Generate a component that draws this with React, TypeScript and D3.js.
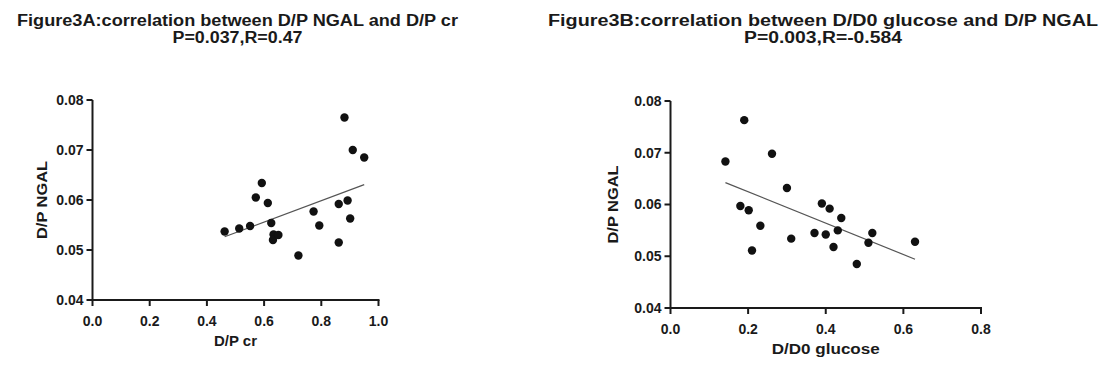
import React from "react";
import * as d3 from "d3";

const dpCr = [0.462, 0.513, 0.551, 0.571, 0.592, 0.613, 0.625, 0.633, 0.631, 0.65, 0.72, 0.773, 0.793, 0.861, 0.861, 0.881, 0.892, 0.901, 0.91, 0.95];
const ngalA = [0.0537, 0.0543, 0.0548, 0.0605, 0.0634, 0.0594, 0.0554, 0.0531, 0.052, 0.053, 0.0489, 0.0577, 0.0549, 0.0592, 0.0515, 0.0765, 0.0599, 0.0563, 0.07, 0.0685];

const glucose = [0.1415, 0.18, 0.19, 0.2015, 0.21, 0.2315, 0.2615, 0.3, 0.311, 0.371, 0.39, 0.4, 0.41, 0.42, 0.431, 0.44, 0.48, 0.51, 0.52, 0.63];
const ngalB = [0.0683, 0.0597, 0.0763, 0.0589, 0.0511, 0.0559, 0.0698, 0.0632, 0.0534, 0.0545, 0.0602, 0.0542, 0.0592, 0.0518, 0.055, 0.0574, 0.0485, 0.0526, 0.0545, 0.0528];

const yTicks = [0.04, 0.05, 0.06, 0.07, 0.08];
const xTicksA = [0, 0.2, 0.4, 0.6, 0.8, 1.0];
const xTicksB = [0, 0.2, 0.4, 0.6, 0.8];

const titleA1 = "Figure3A:correlation between D/P NGAL and D/P cr";
const titleA2 = "P=0.037,R=0.47";
const titleB1 = "Figure3B:correlation between D/D0 glucose and D/P NGAL";
const titleB2 = "P=0.003,R=-0.584";

const FONT = "'Liberation Sans', Arial, sans-serif";
const INK = "#1a1a1a";

function fit(xs: number[], ys: number[]) {
  const mx = d3.mean(xs)!;
  const my = d3.mean(ys)!;
  let num = 0, den = 0;
  xs.forEach((x, i) => { num += (x - mx) * (ys[i] - my); den += (x - mx) ** 2; });
  const b = num / den;
  return { a: my - b * mx, b };
}

type PanelProps = {
  xs: number[]; ys: number[]; xTicks: number[];
  x0: number; x1: number; y0: number; y1: number;
  xDomain: [number, number];
  title1: string; title2: string; titleX: number; t1Len: number; t2Len: number;
  xLabel: string; xLabelLen: number; yLabel: string; yLabelX: number; yLabelLen: number;
};

function Panel(p: PanelProps) {
  const x = d3.scaleLinear().domain(p.xDomain).range([p.x0, p.x1]);
  const y = d3.scaleLinear().domain([0.04, 0.08]).range([p.y0, p.y1]);
  const { a, b } = fit(p.xs, p.ys);
  const xmin = d3.min(p.xs)!;
  const xmax = d3.max(p.xs)!;
  const line = d3.line<number>().x((v) => x(v)).y((v) => y(a + b * v));
  return (
    <g>
      <text x={p.titleX} y={26} textAnchor="middle" fontFamily={FONT} fontWeight="bold" fontSize={16} fill={INK}
        textLength={p.t1Len} lengthAdjust="spacingAndGlyphs">{p.title1}</text>
      <text x={p.titleX} y={43} textAnchor="middle" fontFamily={FONT} fontWeight="bold" fontSize={16} fill={INK}
        textLength={p.t2Len} lengthAdjust="spacingAndGlyphs">{p.title2}</text>
      <line x1={p.x0} x2={p.x0} y1={p.y1} y2={p.y0 + 1} stroke={INK} strokeWidth={2} />
      <line x1={p.x0 - 1} x2={p.x1 + 1} y1={p.y0} y2={p.y0} stroke={INK} strokeWidth={2} />
      {yTicks.map((t) => (
        <g key={"y" + t}>
          <line x1={p.x0 - 6} x2={p.x0} y1={y(t)} y2={y(t)} stroke={INK} strokeWidth={2} />
          <text x={p.x0 - 9} y={y(t)} dy="0.35em" textAnchor="end" fontFamily={FONT} fontWeight="bold" fontSize={14} fill={INK}>{d3.format(".2f")(t)}</text>
        </g>
      ))}
      {p.xTicks.map((t) => (
        <g key={"x" + t}>
          <line x1={x(t)} x2={x(t)} y1={p.y0} y2={p.y0 + 6} stroke={INK} strokeWidth={2} />
          <text x={x(t)} y={p.y0 + 26} textAnchor="middle" fontFamily={FONT} fontWeight="bold" fontSize={14} fill={INK}>{d3.format(".1f")(t)}</text>
        </g>
      ))}
      <text x={(p.x0 + p.x1) / 2} y={p.y0 + 46} textAnchor="middle" fontFamily={FONT} fontWeight="bold" fontSize={14} fill={INK}
        textLength={p.xLabelLen} lengthAdjust="spacingAndGlyphs">{p.xLabel}</text>
      <text transform={`translate(${p.yLabelX},${(p.y0 + p.y1) / 2}) rotate(-90)`} textAnchor="middle" fontFamily={FONT} fontWeight="bold" fontSize={15} fill={INK}
        textLength={p.yLabelLen} lengthAdjust="spacingAndGlyphs">{p.yLabel}</text>
      <path d={line([xmin, xmax]) || ""} stroke="#555" strokeWidth={1.2} fill="none" />
      {p.xs.map((v, i) => (
        <circle key={i} cx={x(v)} cy={y(p.ys[i])} r={4.2} fill="#111" />
      ))}
    </g>
  );
}

export default function App() {
  return (
    <svg width={1109} height={380} style={{ position: "absolute", left: 0, top: 0, background: "#fff" }}>
      <rect width={1109} height={380} fill="#fff" />
      <Panel xs={dpCr} ys={ngalA} xTicks={xTicksA} x0={92.5} x1={378.5} y0={300} y1={100} xDomain={[0, 1]}
        title1={titleA1} title2={titleA2} titleX={237.5} t1Len={441} t2Len={130}
        xLabel="D/P cr" xLabelLen={43} yLabel="D/P NGAL" yLabelX={47} yLabelLen={78} />
      <Panel xs={glucose} ys={ngalB} xTicks={xTicksB} x0={670.5} x1={981} y0={308} y1={101} xDomain={[0, 0.8]}
        title1={titleB1} title2={titleB2} titleX={823} t1Len={550} t2Len={158}
        xLabel="D/D0 glucose" xLabelLen={108} yLabel="D/P NGAL" yLabelX={618} yLabelLen={78} />
    </svg>
  );
}
